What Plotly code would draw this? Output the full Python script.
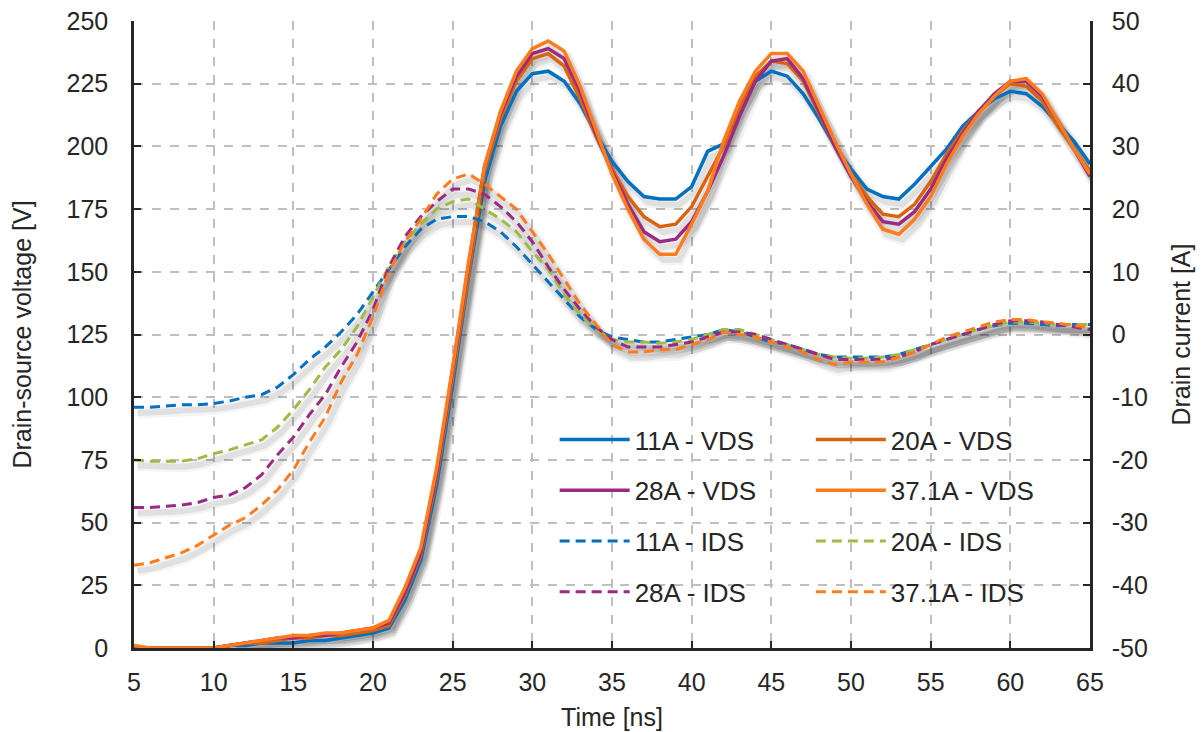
import plotly.graph_objects as go

# ---------------- data ----------------
t = list(range(5, 66))  # time [ns]

# Drain-source voltage [V]
vds_11 = [0,0,0,0,0,0,1,1,2,2,2,3,3,4,5,6,8,19,35,65,105,148,186,208,222,229,230,226,217,205,
          194,186,180,179,179,184,198,201,216,226,230,228,221,211,200,191,183,180,179,185,192,
          199,208,214,219,222,221,216,209,202,193]
vds_20 = [0,0,0,0,0,0,1,2,2,3,4,4,5,5,6,7,9,21,37,68,108,150,190,211,226,235,237,232,219,204,
          191,180,172,168,169,176,188,200,215,228,234,233,226,213,200,189,180,173,172,177,186,
          197,206,214,220,225,224,218,208,199,190]
vds_28 = [0,0,0,0,0,0,1,2,3,4,4,5,5,6,7,8,10,22,38,70,111,153,192,213,228,237,239,235,222,205,
          190,177,166,162,163,170,182,196,212,226,234,235,227,214,200,188,178,170,169,174,183,
          195,205,214,221,226,226,220,210,199,188]
vds_37 = [1,0,0,0,0,0,1,2,3,4,5,5,6,6,7,8,11,24,40,72,112,154,192,214,230,239,242,238,224,206,
          189,175,163,157,157,169,182,202,218,230,237,237,230,216,202,189,177,167,165,171,180,
          193,204,213,220,226,227,221,210,199,189]

# Drain current [A]
ids_11 = [-11.6,-11.6,-11.4,-11.2,-11.2,-11.0,-10.6,-10.0,-9.6,-8.4,-6.4,-4.0,-2.0,0.4,3.2,6.8,
          10.4,14.0,16.8,18.4,18.8,18.8,18.0,16.4,14.0,11.2,8.4,5.6,2.8,0.8,-0.4,-0.8,-1.2,-1.2,
          -0.8,-0.4,0.0,0.8,0.4,-0.4,-1.2,-1.6,-2.4,-3.2,-3.6,-3.6,-3.6,-3.6,-3.2,-2.4,-1.6,-0.8,
          0.0,0.8,1.4,1.8,1.8,1.6,1.4,1.6,1.6]
ids_20 = [-20.0,-20.2,-20.2,-20.2,-19.8,-19.0,-18.4,-17.6,-16.8,-14.8,-12.0,-8.8,-5.2,-2.4,1.2,6.0,
          10.8,14.8,17.6,20.0,21.2,21.6,20.0,18.4,16.4,13.2,10.4,6.4,3.2,0.8,-0.8,-1.2,-1.2,-1.4,
          -1.2,-0.8,0.0,0.8,0.8,0.0,-0.8,-1.6,-2.4,-3.2,-3.6,-3.8,-3.8,-3.6,-3.2,-2.4,-1.6,-0.8,
          0.0,0.8,1.4,2.0,2.0,1.8,1.6,1.6,1.6]
ids_28 = [-27.6,-27.6,-27.4,-27.2,-26.8,-26.0,-25.6,-24.4,-22.4,-19.2,-16.4,-12.8,-9.6,-5.2,-1.2,4.0,
          10.8,15.6,18.8,21.2,23.2,23.2,22.4,20.4,18.0,14.8,10.8,7.2,4.0,1.2,-0.8,-2.0,-2.0,-2.0,
          -1.6,-1.2,-0.4,0.4,0.4,0.0,-0.8,-1.6,-2.4,-3.2,-4.0,-4.0,-4.0,-4.0,-3.6,-2.8,-1.6,-0.8,
          0.0,0.8,1.6,2.2,2.2,2.0,1.6,1.2,0.8]
ids_37 = [-36.8,-36.4,-35.6,-34.8,-33.6,-32.0,-30.4,-29.2,-27.2,-24.8,-21.6,-17.2,-13.2,-7.6,-3.2,2.8,
          10.0,14.8,18.4,22.4,24.8,25.6,24.0,22.0,20.0,16.4,12.8,8.8,4.8,1.6,-1.6,-2.8,-2.8,-2.4,
          -2.4,-1.6,-0.8,0.4,0.0,-0.4,-1.2,-2.0,-2.8,-4.0,-4.8,-4.4,-4.4,-4.4,-3.6,-2.8,-1.6,-0.4,
          0.4,1.2,2.0,2.4,2.4,2.0,1.8,1.4,1.2]

x_ticks = list(range(5, 66, 5))
v_ticks = list(range(0, 251, 25))
i_ticks = list(range(-50, 51, 10))
i_tick_text = [str(v) for v in i_ticks]  # plain hyphen minus, as in the reference
vds_labels = ["11A - VDS", "20A - VDS", "28A - VDS", "37.1A - VDS"]
ids_labels = ["11A - IDS", "20A - IDS", "28A - IDS", "37.1A - IDS"]
vds_colors = ["#0070C0", "#D9640D", "#9C2A80", "#FF7C1C"]
ids_colors = ["#0070C0", "#9DBB45", "#9C2A80", "#FF7C1C"]

# ---------------- figure ----------------
FONT = "Liberation Sans, Arial, sans-serif"
FS = 25
TXT = "#262626"
fig = go.Figure()

vds_all = [vds_11, vds_20, vds_28, vds_37]
ids_all = [ids_11, ids_20, ids_28, ids_37]

# soft drop shadows (offset copies of the data)
sh_dx = 0.22
for v in vds_all:
    for w, a in [(11, 0.045), (6, 0.08)]:
        fig.add_trace(go.Scatter(x=[ti + sh_dx for ti in t], y=[vi - 2.2 for vi in v],
                                 mode="lines", line=dict(color=f"rgba(0,0,0,{a})", width=w),
                                 showlegend=False, hoverinfo="skip", yaxis="y"))
for c in ids_all:
    for w, a in [(11, 0.045), (6, 0.08)]:
        fig.add_trace(go.Scatter(x=[ti + sh_dx for ti in t], y=[ci - 0.9 for ci in c],
                                 mode="lines", line=dict(color=f"rgba(0,0,0,{a})", width=w),
                                 showlegend=False, hoverinfo="skip", yaxis="y2"))

left_col = {0, 2}
for i, (v, name, col) in enumerate(zip(vds_all, vds_labels, vds_colors)):
    fig.add_trace(go.Scatter(x=t, y=v, mode="lines", name=name,
                             line=dict(color=col, width=3.5),
                             legend="legend" if i in left_col else "legend2",
                             legendgroup=name, legendrank=i, yaxis="y"))
for i, (c, name, col) in enumerate(zip(ids_all, ids_labels, ids_colors)):
    fig.add_trace(go.Scatter(x=t, y=c, mode="lines", name=name,
                             line=dict(color=col, width=3, dash="10px,6px"),
                             legend="legend" if i in left_col else "legend2",
                             legendgroup=name, legendrank=10 + i, yaxis="y2"))

axis_common = dict(showline=True, linecolor=TXT, linewidth=2.5, ticks="inside",
                   ticklen=7, tickwidth=2, tickcolor=TXT, mirror=False, zeroline=False,
                   automargin=False, tickfont=dict(family=FONT, size=FS, color=TXT))
title_font = dict(family=FONT, size=FS, color=TXT)

leg_common = dict(font=dict(family=FONT, size=26, color=TXT), bgcolor="rgba(0,0,0,0)",
                  tracegroupgap=14, itemwidth=70, yanchor="top", xanchor="left")

fig.update_layout(
    width=1201, height=732,
    margin=dict(l=134, r=111, t=21, b=84),
    paper_bgcolor="white", plot_bgcolor="white",
    font=dict(family=FONT, size=FS, color=TXT),
    xaxis=dict(range=[5, 65], tickvals=x_ticks, showgrid=True, gridcolor="#BFBFBF",
               gridwidth=1.5, griddash="dash", ticklabelstandoff=10,
               title=dict(text="Time [ns]", font=title_font, standoff=14),
               **axis_common),
    yaxis=dict(range=[0, 250], tickvals=v_ticks, showgrid=True, gridcolor="#BFBFBF",
               gridwidth=1.5, griddash="dash", ticklabelstandoff=18,
               title=dict(text="Drain-source voltage [V]", font=title_font, standoff=28),
               **axis_common),
    yaxis2=dict(range=[-50, 50], tickvals=i_ticks, ticktext=i_tick_text, overlaying="y",
                side="right", showgrid=False, ticklabelstandoff=14,
                title=dict(text="Drain current [A]", font=title_font, standoff=26),
                **axis_common),
    legend=dict(x=0.440, y=0.370, **leg_common),
    legend2=dict(x=0.708, y=0.370, **leg_common),
)

fig.write_html("out.html")
